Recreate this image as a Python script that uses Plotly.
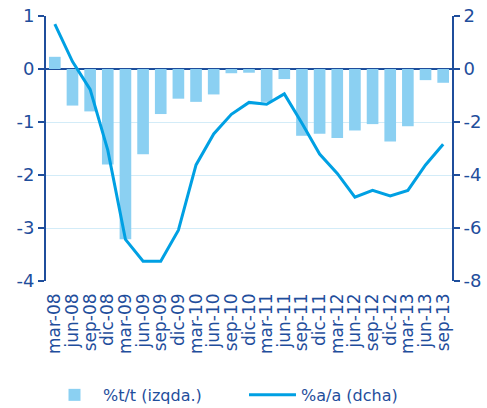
import plotly.graph_objects as go

quarters = ["mar-08", "jun-08", "sep-08", "dic-08", "mar-09", "jun-09", "sep-09", "dic-09",
            "mar-10", "jun-10", "sep-10", "dic-10", "mar-11", "jun-11", "sep-11", "dic-11",
            "mar-12", "jun-12", "sep-12", "dic-12", "mar-13", "jun-13", "sep-13"]
qoq = [0.23, -0.69, -0.80, -1.80, -3.21, -1.61, -0.85, -0.56, -0.62, -0.48, -0.08, -0.07,
       -0.62, -0.19, -1.26, -1.22, -1.30, -1.16, -1.04, -1.37, -1.08, -0.21, -0.26]
yoy = [1.69, 0.28, -0.77, -3.06, -6.43, -7.25, -7.25, -6.08, -3.62, -2.45, -1.71, -1.26,
       -1.33, -0.94, -2.05, -3.21, -3.94, -4.84, -4.58, -4.79, -4.58, -3.62, -2.84]
left_ticks = [1, 0, -1, -2, -3, -4]
left_labels = ["1", "0", "-1", "-2", "-3", "-4"]
right_ticks = [2, 0, -2, -4, -6, -8]
right_labels = ["2", "0", "-2", "-4", "-6", "-8"]

dark = "#1F4E9C"
grid = "#D3ECF8"
font = "DejaVu Sans"

fig = go.Figure()
fig.add_trace(go.Bar(x=quarters, y=qoq, name="%t/t (izqda.)", marker_color="#8BD0F2",
                     marker_line_width=0, yaxis="y", xaxis="x"))
fig.add_trace(go.Scatter(x=quarters, y=yoy, name="%a/a (dcha)", mode="lines",
                         line=dict(color="#00A0E3", width=3), yaxis="y2", xaxis="x"))

fig.update_layout(
    width=487, height=408,
    margin=dict(l=46, r=35, t=16, b=127, autoexpand=False),
    plot_bgcolor="white", paper_bgcolor="white",
    font=dict(family=font, color=dark, size=15),
    bargap=0.34,
    showlegend=True,
    legend=dict(orientation="h", x=0.0, xanchor="left", y=-0.43, yanchor="middle",
                font=dict(size=16, color=dark), itemwidth=47, traceorder="normal",
                entrywidth=136),
    xaxis=dict(type="category", categoryorder="array", categoryarray=quarters,
               tickmode="array", tickvals=quarters, ticktext=quarters,
               tickangle=-90, tickfont=dict(size=17, color=dark), showgrid=False,
               ticks="", showline=False, range=[-0.5, 22.5], automargin=False,
               ticklabelstandoff=8),
    xaxis2=dict(matches="x", overlaying="x", anchor="free", position=0.8,
                showticklabels=False, ticks="outside", tickson="boundaries",
                ticklen=4, tickwidth=2, tickcolor=dark, showline=True, linecolor=dark,
                linewidth=2, showgrid=False, automargin=False),
    yaxis=dict(range=[-4, 1], tickmode="array", tickvals=left_ticks, ticktext=left_labels,
               showgrid=True, gridcolor=grid, gridwidth=1,
               zeroline=True, zerolinecolor=dark, zerolinewidth=2,
               showline=True, linecolor=dark, linewidth=2, ticks="outside",
               ticklen=6, tickwidth=2, tickcolor=dark, tickfont=dict(size=18, color=dark),
               automargin=False),
    yaxis2=dict(range=[-8, 2], tickmode="array", tickvals=right_ticks, ticktext=right_labels,
                overlaying="y", side="right", showgrid=False,
                zeroline=False, showline=True, linecolor=dark, linewidth=2,
                ticks="outside", ticklen=6, tickwidth=2, tickcolor=dark,
                tickfont=dict(size=18, color=dark), automargin=False),
)

fig.write_html("out.html", config={"displayModeBar": False},
               post_script="document.body.style.margin='0';document.body.style.padding='0';")
